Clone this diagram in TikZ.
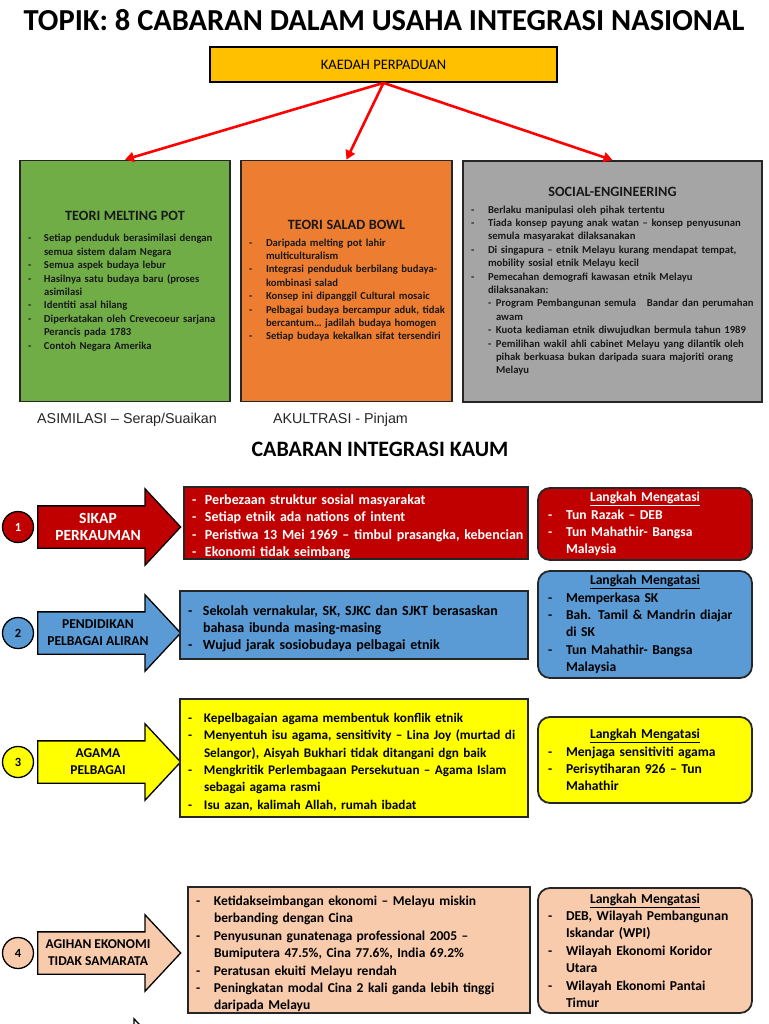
\documentclass[tikz,border=0pt]{standalone}
\usepackage{fontspec}
\setmainfont{Carlito}
\newfontfamily\arialfont{Liberation Sans}
\usetikzlibrary{shapes.arrows,arrows.meta}

\definecolor{kaedahgold}{HTML}{FFC000}
\definecolor{meltgreen}{HTML}{70AD47}
\definecolor{saladorange}{HTML}{ED7D31}
\definecolor{socgrey}{HTML}{A5A5A5}
\definecolor{sikapred}{HTML}{C00000}
\definecolor{aliranblue}{HTML}{5B9BD5}
\definecolor{agamayellow}{HTML}{FFFF00}
\definecolor{ekonpeach}{HTML}{F8CBAD}

\newlength\dashshift
\setlength\dashshift{4pt}
\newcommand{\itm}[2][20pt]{\par\hangindent=#1\hangafter=1\noindent
  \makebox[#1][l]{\hspace*{\dashshift}-}#2\par}
\newcommand{\subitm}[1]{\par\hangindent=29pt\hangafter=1\noindent\hspace*{21pt}\makebox[8pt][l]{-}#1\par}
\newcommand{\theoryhead}[1]{{\centering\fontsize{14.2}{16}\selectfont #1\par}\vspace{3pt}}
\newcommand{\langkahhead}{{\centering\underline{Langkah Mengatasi}\par}}

\tikzset{
  theorybox/.style={draw=black!85, line width=1.8pt, inner sep=0pt, align=left, text=black!90,
    font=\fontsize{10.65}{13.4}\selectfont\bfseries},
  cabarbox/.style={draw=black!85, line width=1.3pt, inner sep=0pt, align=left,
    font=\fontsize{14}{17.4}\selectfont\bfseries},
  langkahbox/.style={cabarbox, rounded corners=12pt, line width=1.8pt,
    font=\fontsize{13.6}{17.4}\selectfont\bfseries, execute at begin node={\setlength\dashshift{6pt}}},
  cabarnum/.style={circle, draw=black, line width=1.3pt, minimum size=31pt, inner sep=0pt,
    font=\fontsize{12.5}{14}\selectfont\bfseries},
  cabararrow/.style={single arrow, draw=black, line width=1.3pt, inner xsep=0pt, inner ysep=20.5pt,
    single arrow head extend=17pt, single arrow tip angle=94, minimum height=143pt, anchor=tail},
  arrowtext/.style={align=center},
  kaedahlink/.style={draw=red, line width=2.6pt, -{Triangle[length=9pt,width=10pt]}},
}

\begin{document}
\begin{tikzpicture}[x=1pt,y=-1pt]
  \useasboundingbox[fill=white] (0,0) rectangle (768,1024);

  \node[font=\fontsize{30.5}{34}\selectfont\bfseries] (topik) at (384,20)
    {TOPIK: 8 CABARAN DALAM USAHA INTEGRASI NASIONAL};
  \node[draw=black, line width=1.8pt, fill=kaedahgold, minimum width=347pt, minimum height=35pt,
    font=\fontsize{14.5}{16}\selectfont] (kaedah) at (383.5,64.5) {KAEDAH PERPADUAN};

  % kaedah perpaduan
  \node[theorybox, fill=meltgreen, minimum width=210pt, minimum height=241pt, text width=202pt]
    (meltpot) at (125,281) {\vspace*{5pt}\theoryhead{TEORI MELTING POT}
    \itm{Setiap penduduk berasimilasi dengan\newline semua sistem dalam Negara}
    \itm{Semua aspek budaya lebur}
    \itm{Hasilnya satu budaya baru (proses\newline asimilasi}
    \itm{Identiti asal hilang}
    \itm{Diperkatakan oleh Crevecoeur sarjana\newline Perancis pada 1783}
    \itm{Contoh Negara Amerika}};
  \node[theorybox, fill=saladorange, minimum width=211pt, minimum height=241pt, text width=203pt]
    (saladbowl) at (346.5,281) {\theoryhead{TEORI SALAD BOWL}
    \itm[21pt]{Daripada melting pot lahir\newline multiculturalism}
    \itm[21pt]{Integrasi penduduk berbilang budaya-\newline kombinasi salad}
    \itm[21pt]{Konsep ini dipanggil Cultural mosaic}
    \itm[21pt]{Pelbagai budaya bercampur aduk, tidak\newline bercantum… jadilah budaya homogen}
    \itm[21pt]{Setiap budaya kekalkan sifat tersendiri}};
  \node[theorybox, fill=socgrey, minimum width=299pt, minimum height=241pt, text width=291pt]
    (socialeng) at (612.5,281.5) {\theoryhead{SOCIAL-ENGINEERING}
    \itm[21pt]{Berlaku manipulasi oleh pihak tertentu}
    \itm[21pt]{Tiada konsep payung anak watan – konsep penyusunan\newline semula masyarakat dilaksanakan}
    \itm[21pt]{Di singapura – etnik Melayu kurang mendapat tempat,\newline mobility sosial etnik Melayu kecil}
    \itm[21pt]{Pemecahan demografi kawasan etnik Melayu\newline dilaksanakan:}
    \subitm{Program Pembangunan semula\ \ \ Bandar dan perumahan\newline awam}
    \subitm{Kuota kediaman etnik diwujudkan bermula tahun 1989}
    \subitm{Pemilihan wakil ahli cabinet Melayu yang dilantik oleh\newline pihak berkuasa bukan daripada suara majoriti orang\newline Melayu}};

  \draw[kaedahlink] (kaedah.south) -- (meltpot.north);
  \draw[kaedahlink] (kaedah.south) -- (saladbowl.north);
  \draw[kaedahlink] (kaedah.south) -- (socialeng.north);

  \node[font=\arialfont\fontsize{14.3}{16}\selectfont, text=black!85] (asimilasi) at (127,420)
    {ASIMILASI – Serap/Suaikan};
  \node[font=\arialfont\fontsize{14.3}{16}\selectfont, text=black!85] (akultrasi) at (340.5,420)
    {AKULTRASI - Pinjam};
  \node[font=\fontsize{22}{26}\selectfont\bfseries] (cabaran) at (380,449) {CABARAN INTEGRASI KAUM};

  % cabaran integrasi kaum
  \foreach \n/\y/\fc/\tc/\fs/\lbl in {1/527/sikapred/white/15.5/{SIKAP\\PERKAUMAN},
      2/633/aliranblue/black/13.6/{PENDIDIKAN\\PELBAGAI ALIRAN},
      3/762/agamayellow/black/13.5/{AGAMA\\PELBAGAI},
      4/953/ekonpeach/black/13.5/{AGIHAN EKONOMI\\TIDAK SAMARATA}}
  {
    \node[cabarnum, fill=\fc, text=\tc] (num\n) at (18,\y) {\n};
    \node[cabararrow, fill=\fc] (arrow\n) at (37,\y) {};
    \node[arrowtext, text=\tc, font=\fontsize{\fs}{17}\selectfont\bfseries] (arrowlbl\n) at (98,\y) {\lbl};
  }
  \node[cabararrow, fill=white] (arrow5) at (26,1057) {};

  \node[cabarbox, fill=sikapred, text=white, minimum width=344pt, minimum height=70pt, text width=336pt]
    (sikap) at (356,523) {\itm[17pt]{Perbezaan struktur sosial masyarakat}
    \itm[17pt]{Setiap etnik ada nations of intent}
    \itm[17pt]{Peristiwa 13 Mei 1969 – timbul prasangka, kebencian}
    \itm[17pt]{Ekonomi tidak seimbang}};
  \node[cabarbox, fill=aliranblue, minimum width=348pt, minimum height=68pt, text width=340pt]
    (aliran) at (354,625) {\itm[19pt]{Sekolah vernakular, SK, SJKC dan SJKT berasaskan\newline bahasa ibunda masing-masing}
    \itm[19pt]{Wujud jarak sosiobudaya pelbagai etnik}};
  \node[cabarbox, fill=agamayellow, minimum width=348pt, minimum height=118pt, text width=340pt,
    font=\fontsize{13.2}{17.4}\selectfont\bfseries]
    (agama) at (354,758) {\itm{Kepelbagaian agama membentuk konflik etnik}
    \itm{Menyentuh isu agama, sensitivity – Lina Joy (murtad di\newline Selangor), Aisyah Bukhari tidak ditangani dgn baik}
    \itm{Mengkritik Perlembagaan Persekutuan – Agama Islam\newline sebagai agama rasmi}
    \itm{Isu azan, kalimah Allah, rumah ibadat}};
  \node[cabarbox, fill=ekonpeach, minimum width=342pt, minimum height=126pt, text width=334pt,
    font=\fontsize{13.5}{17.4}\selectfont\bfseries]
    (ekonomi) at (359,950) {\itm[22pt]{Ketidakseimbangan ekonomi – Melayu miskin\newline berbanding dengan Cina}
    \itm[22pt]{Penyusunan gunatenaga professional 2005 –\newline Bumiputera 47.5\%, Cina 77.6\%, India 69.2\%}
    \itm[22pt]{Peratusan ekuiti Melayu rendah}
    \itm[22pt]{Peningkatan modal Cina 2 kali ganda lebih tinggi\newline daripada Melayu}};

  % langkah mengatasi
  \node[langkahbox, fill=sikapred, text=white, minimum width=214pt, minimum height=72pt, text width=206pt]
    (langkah1) at (645,524) {\langkahhead
    \itm[24pt]{Tun Razak – DEB}
    \itm[24pt]{Tun Mahathir- Bangsa\newline Malaysia}};
  \node[langkahbox, fill=aliranblue, minimum width=214pt, minimum height=107pt, text width=206pt]
    (langkah2) at (645,624.5) {\langkahhead
    \itm[24pt]{Memperkasa SK}
    \itm[24pt]{Bah. Tamil \& Mandrin diajar\newline di SK}
    \itm[24pt]{Tun Mahathir- Bangsa\newline Malaysia}};
  \node[langkahbox, fill=agamayellow, minimum width=214pt, minimum height=86pt, text width=206pt]
    (langkah3) at (645,760) {\langkahhead
    \itm[24pt]{Menjaga sensitiviti agama}
    \itm[24pt]{Perisytiharan 926 – Tun\newline Mahathir}};
  \node[langkahbox, fill=ekonpeach, minimum width=214pt, minimum height=125pt, text width=206pt]
    (langkah4) at (645,950.5) {\langkahhead
    \itm[24pt]{DEB, Wilayah Pembangunan\newline Iskandar (WPI)}
    \itm[24pt]{Wilayah Ekonomi Koridor\newline Utara}
    \itm[24pt]{Wilayah Ekonomi Pantai\newline Timur}};
\end{tikzpicture}
\end{document}
